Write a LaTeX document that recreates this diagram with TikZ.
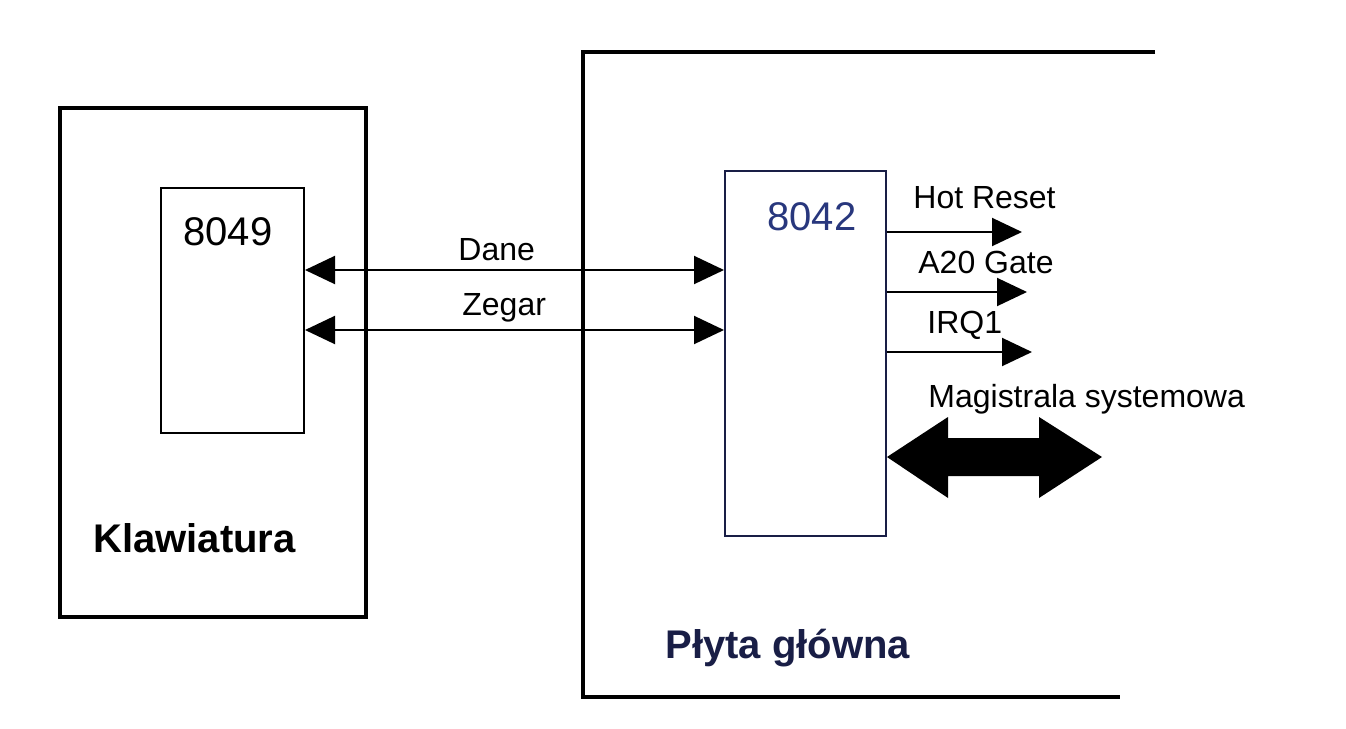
\documentclass[tikz,border=0pt]{standalone}
\usepackage{fontspec}
\setmainfont{Liberation Sans}
\usetikzlibrary{arrows.meta,calc}
\definecolor{navy}{RGB}{40,55,125}
\definecolor{darknavy}{RGB}{25,30,70}
\begin{document}
\begin{tikzpicture}[x=0.5pt,y=-0.5pt,
  thickbox/.style={draw,line width=2pt,inner sep=0pt,anchor=north west},
  chip/.style={draw,line width=1pt,inner sep=0pt,anchor=north west},
  lbl/.style={inner sep=0pt,anchor=base west,font=\fontsize{16}{19}\selectfont},
  big/.style={inner sep=0pt,anchor=base west,font=\fontsize{20}{24}\selectfont},
  bigbold/.style={inner sep=0pt,anchor=base west,font=\fontsize{20}{24}\selectfont\bfseries},
  sig/.style={line width=1pt,-{Triangle[length=15pt,width=14pt]}},
  bidir/.style={line width=1pt,{Triangle[length=15pt,width=14pt]}-{Triangle[length=15pt,width=14pt]}}]
\useasboundingbox (0,0) rectangle (1346,729);
\fill[white] (0,0) rectangle (1346,729);

% keyboard
\node[thickbox, minimum width=153pt, minimum height=254.5pt] (kbd) at (58,106) {};
\node[chip, minimum width=71.5pt, minimum height=122.5pt] (k8049) at (160,187) {};
\node[big] (t8049) at (183,245) {8049};
\node[bigbold] (tkl) at (93,552) {Klawiatura};

% motherboard frame
\draw[line width=2pt] (1155,52) -- (583,52) -- (583,697) -- (1120,697);
\node[bigbold, text=darknavy] (tpg) at (665,658) {Płyta główna};

% 8042
\node[chip, draw=darknavy, minimum width=80.5pt, minimum height=182.5pt] (k8042) at (724,170) {};
\node[big, text=navy] (t8042) at (767,230) {8042};

% Dane / Zegar
\coordinate (yD) at (0,270);
\coordinate (yZ) at (0,330);
\draw[bidir] (k8049.east |- yD) -- (k8042.west |- yD);
\draw[bidir] (k8049.east |- yZ) -- (k8042.west |- yZ);
\node[lbl] (tdane) at (458,260) {Dane};
\node[lbl] (tzegar) at (462,315) {Zegar};

% outputs
\coordinate (eH) at (1022,232);
\coordinate (eA) at (1027,292);
\coordinate (eI) at (1032,352);
\draw[sig] (k8042.east |- eH) -- (eH);
\draw[sig] (k8042.east |- eA) -- (eA);
\draw[sig] (k8042.east |- eI) -- (eI);
\node[lbl] (thot) at (913,208) {Hot Reset};
\node[lbl] (ta20) at (918,273) {A20 Gate};
\node[lbl] (tirq) at (927,333) {IRQ1};
\node[lbl] (tmag) at (928,407) {Magistrala systemowa};

% system bus double arrow
\coordinate (yM) at (0,457);
\coordinate (bus) at (k8042.east |- yM);
\fill (bus) -- ++(61,-40) -- ++(0,21) -- ++(91,0) -- ++(0,-21) -- ++(63,40)
  -- ++(-63,41) -- ++(0,-22) -- ++(-91,0) -- ++(0,22) -- cycle;
\end{tikzpicture}
\end{document}
